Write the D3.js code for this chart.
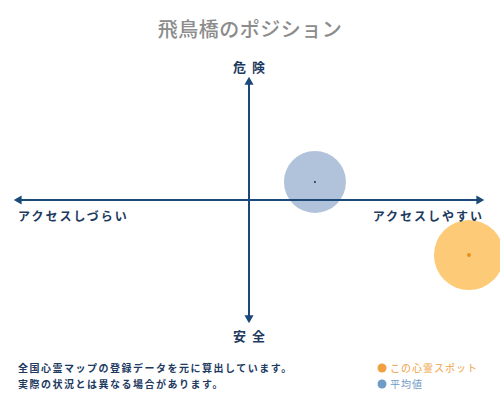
<!DOCTYPE html>
<html>
<head>
<meta charset="utf-8">
<script src="https://cdn.jsdelivr.net/npm/d3@7"></script>
<style>
body { margin: 0; background: #fff; }
text { font-family: "Noto Sans CJK JP", sans-serif; }
</style>
</head>
<body>
<div id="chart-area"></div>
<script>
// datos de posicion
const title = "飛鳥橋のポジション"
const axisLabels = ["危険", "安全", "アクセスしづらい", "アクセスしやすい"]
const seriesNames = ["この心霊スポット", "平均値"]
const seriesX = [94.4, 28.3]
const seriesY = [-45.5, 14.9]
const seriesR = [35, 31]
const notes = ["全国心霊マップの登録データを元に算出しています。", "実際の状況とは異なる場合があります。"]

const W = 500, H = 400
const AXIS = "#1b4a7a"

const svg = d3.select("#chart-area").append("svg")
    .attr("width", W)
    .attr("height", H)

const x = d3.scaleLinear().domain([-100, 100]).range([16, 482])
const y = d3.scaleLinear().domain([-100, 100]).range([321, 79])

svg.append("defs").append("clipPath")
    .attr("id", "clip")
    .append("rect")
        .attr("width", W)
        .attr("height", H)

// title
svg.append("text")
    .attr("x", 250)
    .attr("y", 37)
    .attr("text-anchor", "middle")
    .attr("fill", "#8c8c8c")
    .style("font-size", "20px")
    .style("font-weight", "500")
    .style("letter-spacing", "0.5px")
    .text(title)

// circles first (under axes)
const fills = ["#fdc468", "#a3b9d4"]
const dots = ["#e8901c", "#1b2f4a"]
const points = svg.append("g").attr("clip-path", "url(#clip)")
points.selectAll("circle.big")
    .data(seriesX)
    .enter()
    .append("circle")
        .attr("class", "big")
        .attr("cx", d => x(d))
        .attr("cy", (d, i) => y(seriesY[i]))
        .attr("r", (d, i) => seriesR[i])
        .attr("fill", (d, i) => fills[i])
        .attr("fill-opacity", (d, i) => i == 0 ? 0.9 : 0.85)

// axes
const ax = svg.append("g")
ax.append("line")
    .attr("x1", x(-100) + 4).attr("x2", x(100) - 4)
    .attr("y1", y(0)).attr("y2", y(0))
    .attr("stroke", AXIS).attr("stroke-width", 2)
ax.append("line")
    .attr("x1", x(0)).attr("x2", x(0))
    .attr("y1", y(100) + 4).attr("y2", y(-100) - 4)
    .attr("stroke", AXIS).attr("stroke-width", 2)

const tri = d3.symbol().type(d3.symbolTriangle).size(36)
const heads = [
    {px: x(0), py: y(100) + 3, rot: 0},
    {px: x(0), py: y(-100) - 3, rot: 180},
    {px: x(-100) + 3, py: y(0), rot: -90},
    {px: x(100) - 3, py: y(0), rot: 90}
]
ax.selectAll("path")
    .data(heads)
    .enter()
    .append("path")
        .attr("d", tri)
        .attr("fill", AXIS)
        .attr("transform", d => `translate(${d.px},${d.py}) rotate(${d.rot})`)

// dots at the centers, over the axes
points.selectAll("circle.dot")
    .data(seriesX)
    .enter()
    .append("circle")
        .attr("class", "dot")
        .attr("cx", d => x(d))
        .attr("cy", (d, i) => y(seriesY[i]))
        .attr("r", (d, i) => i == 0 ? 2 : 1)
        .attr("fill", (d, i) => dots[i])

// axis labels
const lab = svg.append("g")
    .attr("fill", "#1e3a5f")
    .style("font-weight", "bold")
lab.append("text")
    .attr("x", x(0) + 3).attr("y", 72)
    .attr("text-anchor", "middle")
    .style("font-size", "13px")
    .style("letter-spacing", "6px")
    .text(axisLabels[0])
lab.append("text")
    .attr("x", x(0) + 3).attr("y", 341)
    .attr("text-anchor", "middle")
    .style("font-size", "13px")
    .style("letter-spacing", "6px")
    .text(axisLabels[1])
lab.append("text")
    .attr("x", 18).attr("y", 221)
    .style("font-size", "12px")
    .style("letter-spacing", "2px")
    .text(axisLabels[2])
lab.append("text")
    .attr("x", 484).attr("y", 221)
    .attr("text-anchor", "end")
    .style("font-size", "12px")
    .style("letter-spacing", "2px")
    .text(axisLabels[3])

// notas
svg.selectAll("text.note")
    .data(notes)
    .enter()
    .append("text")
        .attr("class", "note")
        .attr("x", 18)
        .attr("y", (d, i) => 372 + i * 16)
        .attr("fill", "#1e3a5f")
        .style("font-size", "10px")
        .style("font-weight", "bold")
        .style("letter-spacing", "1.5px")
        .text(d => d)

// legend
const legColors = ["#f0a040", "#6f9cc6"]
const leg = svg.selectAll("g.leg")
    .data(seriesNames)
    .enter()
    .append("g")
        .attr("class", "leg")
        .attr("transform", (d, i) => `translate(382, ${368 + i * 16})`)
leg.append("circle")
    .attr("r", 4.5)
    .attr("fill", (d, i) => legColors[i])
leg.append("text")
    .attr("x", 8)
    .attr("y", 4)
    .attr("fill", (d, i) => legColors[i])
    .style("font-size", "10px")
    .style("letter-spacing", "1px")
    .text(d => d)
</script>
</body>
</html>
